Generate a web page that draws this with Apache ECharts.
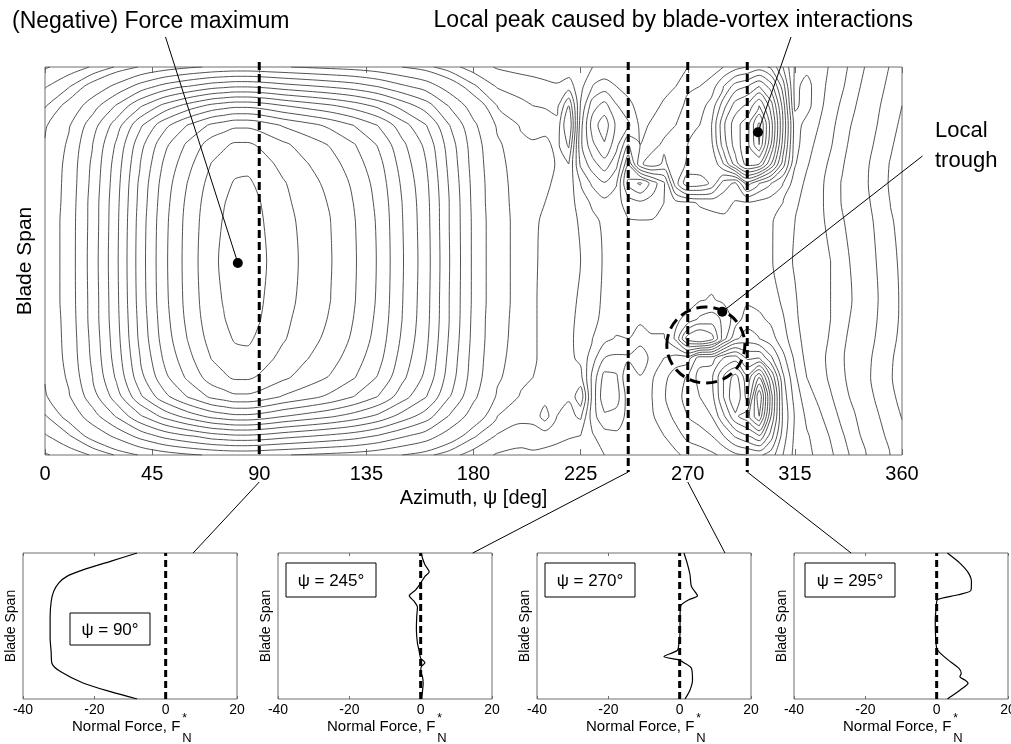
<!DOCTYPE html>
<html>
<head>
<meta charset="utf-8">
<title>Normal force over the rotor disk</title>
<script src="https://cdn.jsdelivr.net/npm/echarts@6/dist/echarts.min.js"></script>
<style>
  html, body { margin: 0; padding: 0; background: #fff; }
  #chart { width: 1011px; height: 744px; }
</style>
</head>
<body>
<div id="chart"></div>
<script>
// ---------------------------------------------------------------------------
// Sampled normal-force field F*_N over azimuth (deg) and blade span (0..1)
// ---------------------------------------------------------------------------
const azimuthStations = [0, 10, 20, 30, 40, 50, 60, 70, 75, 80, 85, 90, 95, 100, 110, 120, 130, 140, 150, 160, 170, 180, 190, 200,
  205, 210, 215, 220, 225, 230, 235, 240, 245, 250, 255, 260, 265, 270, 275, 280, 285, 290, 295, 300,
  305, 310, 315, 320, 325, 330, 335, 340, 345, 350, 355, 360];

const spanStations = [0, 0.05, 0.1, 0.15, 0.2, 0.25, 0.3, 0.35, 0.4, 0.5, 0.6, 0.65, 0.7, 0.75, 0.8, 0.85, 0.9, 0.95, 1];

// one column per azimuth station, values listed from span 0 up to span 1
const forceField = [
  [-0.9,-1.9,-2.9,-3.8,-4.1,-4.3,-4.4,-4.4,-4.5,-4.5,-4.5,-4.4,-4.4,-4.3,-4.1,-3.8,-2.9,-1.9,-0.9],
  [-1.4,-2.9,-4.5,-5.8,-6.3,-6.6,-6.7,-6.8,-6.9,-6.9,-6.9,-6.8,-6.7,-6.6,-6.3,-5.8,-4.5,-2.9,-1.4],
  [-2.1,-4.6,-7.1,-9.1,-10.0,-10.4,-10.6,-10.8,-10.8,-10.9,-10.8,-10.8,-10.6,-10.4,-10.0,-9.1,-7.1,-4.6,-2.1],
  [-3.1,-6.5,-10.2,-13.0,-14.3,-14.9,-15.2,-15.4,-15.5,-15.6,-15.5,-15.4,-15.2,-14.9,-14.3,-13.0,-10.2,-6.5,-3.1],
  [-4.1,-8.8,-13.7,-17.6,-19.3,-20.0,-20.5,-20.7,-20.9,-21.0,-20.9,-20.7,-20.5,-20.0,-19.3,-17.6,-13.7,-8.8,-4.1],
  [-5.0,-10.7,-16.6,-21.3,-23.4,-24.3,-24.9,-25.2,-25.4,-25.5,-25.4,-25.2,-24.9,-24.3,-23.4,-21.3,-16.6,-10.7,-5.0],
  [-5.7,-12.0,-18.8,-24.1,-26.4,-27.4,-28.1,-28.5,-28.7,-28.8,-28.7,-28.5,-28.1,-27.4,-26.4,-24.1,-18.8,-12.0,-5.7],
  [-6.2,-13.2,-20.6,-26.4,-29.0,-30.1,-30.8,-31.2,-31.4,-31.6,-31.4,-31.2,-30.8,-30.1,-29.0,-26.4,-20.6,-13.2,-6.2],
  [-6.4,-13.5,-21.1,-27.0,-29.7,-30.7,-31.5,-31.9,-32.1,-32.3,-32.1,-31.9,-31.5,-30.7,-29.7,-27.0,-21.1,-13.5,-6.4],
  [-6.5,-13.8,-21.5,-27.6,-30.3,-31.4,-32.2,-32.6,-32.8,-33.0,-32.8,-32.6,-32.2,-31.4,-30.3,-27.6,-21.5,-13.8,-6.5],
  [-6.5,-13.8,-21.5,-27.6,-30.3,-31.5,-32.3,-32.7,-32.9,-33.0,-32.9,-32.7,-32.3,-31.5,-30.3,-27.6,-21.5,-13.8,-6.5],
  [-6.4,-13.6,-21.2,-27.2,-29.8,-30.9,-31.7,-32.1,-32.3,-32.5,-32.3,-32.1,-31.7,-30.9,-29.8,-27.2,-21.2,-13.6,-6.4],
  [-6.2,-13.3,-20.7,-26.5,-29.1,-30.2,-30.9,-31.3,-31.5,-31.7,-31.5,-31.3,-30.9,-30.2,-29.1,-26.5,-20.7,-13.3,-6.2],
  [-6.1,-12.9,-20.1,-25.8,-28.4,-29.4,-30.2,-30.5,-30.7,-30.9,-30.7,-30.5,-30.2,-29.4,-28.4,-25.8,-20.1,-12.9,-6.1],
  [-5.8,-12.3,-19.2,-24.7,-27.1,-28.1,-28.8,-29.1,-29.4,-29.5,-29.4,-29.1,-28.8,-28.1,-27.1,-24.7,-19.2,-12.3,-5.8],
  [-5.5,-11.7,-18.3,-23.5,-25.8,-26.8,-27.4,-27.8,-28.0,-28.1,-28.0,-27.8,-27.4,-26.8,-25.8,-23.5,-18.3,-11.7,-5.5],
  [-5.2,-11.0,-17.1,-21.9,-24.1,-24.9,-25.6,-25.9,-26.1,-26.2,-26.1,-25.9,-25.6,-24.9,-24.1,-21.9,-17.1,-11.0,-5.2],
  [-4.7,-9.9,-15.5,-19.9,-21.8,-22.7,-23.2,-23.5,-23.7,-23.8,-23.7,-23.5,-23.2,-22.7,-21.8,-19.9,-15.5,-9.9,-4.7],
  [-4.0,-8.4,-13.2,-16.9,-18.5,-19.2,-19.7,-20.0,-20.1,-20.2,-20.1,-20.0,-19.7,-19.2,-18.5,-16.9,-13.2,-8.4,-4.0],
  [-3.3,-7.1,-11.0,-14.1,-15.5,-16.1,-16.5,-16.7,-16.8,-16.9,-16.8,-16.7,-16.5,-16.1,-15.5,-14.1,-11.0,-7.1,-3.3],
  [-2.4,-5.0,-7.8,-10.0,-11.0,-11.4,-11.7,-11.9,-11.9,-12.0,-11.9,-11.9,-11.7,-11.4,-11.0,-10.0,-7.8,-5.0,-2.4],
  [-1.5,-3.2,-5.0,-6.4,-7.0,-7.2,-7.4,-7.5,-7.6,-7.6,-7.6,-7.5,-7.4,-7.2,-7.0,-6.4,-5.0,-3.2,-1.5],
  [-0.9,-1.9,-3.0,-3.8,-4.2,-4.4,-4.5,-4.5,-4.6,-4.6,-4.6,-4.5,-4.5,-4.4,-4.2,-3.8,-3.0,-1.9,-0.9],
  [-0.7,-1.5,-2.3,-2.9,-3.2,-3.3,-3.4,-3.5,-3.5,-3.5,-3.5,-3.5,-3.4,-3.3,-3.2,-2.9,-2.3,-1.5,-0.7],
  [-0.8,-1.6,-2.3,-2.8,-3.0,-3.1,-3.1,-3.1,-3.1,-3.1,-3.1,-3.1,-3.2,-3.3,-3.1,-2.7,-2.0,-1.3,-0.7],
  [-0.7,-1.5,-3.5,-2.6,-2.8,-2.8,-2.8,-2.8,-2.8,-2.85,-2.9,-3.0,-3.2,-3.5,-3.3,-2.6,-1.9,-1.2,-0.6],
  [-0.6,-1.3,-2.0,-2.4,-2.5,-2.5,-2.5,-2.5,-2.5,-2.6,-2.6,-2.7,-2.8,-2.9,-2.7,-2.3,-1.7,-1.1,-0.5],
  [-0.5,-1.1,-1.7,-2.1,-2.2,-2.2,-2.2,-2.2,-2.2,-2.3,-2.3,-2.4,-2.6,-3.0,-4.2,-5.2,-4.0,-1.5,-0.4],
  [-0.4,-1.0,-2.2,-3.8,-2.3,-1.8,-1.7,-1.8,-1.9,-2.0,-1.9,-1.6,-1.0,0.2,0.8,0.6,0.1,-0.3,-0.2],
  [-0.2,-0.1,0.6,0.4,0.3,-0.4,-1.0,-1.3,-1.4,-1.4,-1.3,-0.8,0.2,1.6,2.8,3.5,2.6,1.0,0.0],
  [0.0,0.6,1.8,2.8,2.4,1.0,-0.3,-0.7,-0.8,-0.9,-0.8,-0.3,0.9,2.6,3.9,4.6,3.4,1.5,0.2],
  [0.2,0.8,1.6,2.5,2.2,1.2,0.1,-0.5,-0.7,-0.7,-0.7,-0.6,0.1,1.3,2.4,2.8,2.1,1.0,0.2],
  [0.5,0.6,0.7,0.5,0.0,1.2,0.0,-0.3,-0.6,-0.8,-0.9,-1.5,-3.3,-1.9,0.0,2.2,1.3,0.6,0.2],
  [0.4,0.5,0.7,0.6,0.9,1.8,0.5,-0.2,-0.5,-0.7,-0.9,-1.8,-4.2,1.8,1.0,0.8,0.6,0.4,0.3],
  [0.4,0.6,0.9,1.0,0.9,0.6,0.1,-0.3,-0.5,-0.6,-0.9,-1.6,-2.6,2.6,1.6,1.1,0.8,0.6,0.4],
  [0.5,1.0,1.5,1.9,1.7,1.0,0.1,-0.3,-0.5,-0.5,-0.7,-1.0,-1.2,1.8,2.2,1.6,1.1,0.8,0.5],
  [0.8,1.6,2.3,2.7,2.6,1.4,-1.2,-0.8,-0.5,-0.4,-0.4,-0.3,2.6,2.6,2.6,2.0,1.5,1.0,0.8],
  [1.3,2.3,3.0,3.3,3.1,1.5,-4.6,-1.3,-0.5,-0.4,-0.3,-0.2,4.8,3.1,3.0,2.8,2.3,1.8,1.0],
  [1.5,2.6,3.4,4.0,4.4,3.6,-5.5,-2.2,-0.9,-0.4,-0.4,0.1,4.6,3.2,3.0,3.0,2.6,2.0,1.2],
  [1.8,3.0,4.0,4.6,4.8,3.5,-4.5,-2.5,-1.1,-0.4,-0.4,0.3,3.8,3.0,3.8,4.0,3.4,2.5,1.5],
  [2.2,4.0,5.8,7.0,7.0,5.0,-1.5,-1.8,-0.8,-0.4,-0.3,0.4,1.5,5.0,6.5,6.8,5.6,4.0,2.0],
  [2.8,5.2,7.8,9.0,8.5,5.5,0.8,-0.5,-0.4,-0.4,-0.3,-0.1,0.8,7.5,8.5,8.6,7.5,5.5,2.6],
  [3.0,6.0,8.6,6.6,6.3,3.8,1.5,0.5,-0.2,-0.3,-0.3,-0.1,3.5,9.5,9.7,9.6,8.2,6.0,3.0],
  [3.2,7.0,11.0,12.0,9.0,4.0,1.0,0.2,-0.3,-0.6,-0.6,-0.3,2.0,9.0,12.0,12.3,10.0,7.0,3.5],
  [2.5,4.5,6.0,6.5,5.0,2.2,0.4,-0.2,-0.5,-0.9,-0.9,-0.5,1.0,6.0,8.0,8.5,7.5,5.5,2.8],
  [1.0,1.5,1.8,1.6,1.2,0.3,-0.6,-0.9,-1.2,-1.6,-1.5,-1.0,0.0,2.5,3.6,4.0,3.6,2.5,1.0],
  [-0.3,-0.2,-0.1,-0.4,-0.8,-1.2,-1.6,-1.8,-1.9,-2.1,-2.0,-1.8,-1.5,-0.9,-0.6,-0.5,-1.2,-1.3,-1.1],
  [-0.8,-0.9,-1.2,-1.6,-2.0,-2.3,-2.4,-2.5,-2.5,-2.6,-2.5,-2.4,-2.2,-1.9,-1.6,-1.4,-0.6,-0.6,-1.3],
  [-1.2,-1.4,-1.8,-2.2,-2.5,-2.6,-2.6,-2.7,-2.7,-2.7,-2.8,-2.8,-2.7,-2.5,-2.3,-2.0,-1.7,-1.6,-1.6],
  [-1.8,-2.1,-2.5,-2.9,-3.2,-3.3,-3.1,-3.0,-3.0,-3.0,-3.2,-3.3,-3.4,-3.2,-2.9,-2.7,-2.5,-2.3,-2.1],
  [-2.6,-2.9,-3.3,-3.6,-3.8,-3.9,-3.8,-3.7,-3.6,-3.7,-3.9,-4.1,-4.1,-3.9,-3.7,-3.5,-3.2,-2.9,-2.7],
  [-3.3,-3.6,-3.9,-4.3,-4.6,-4.6,-4.4,-4.2,-4.1,-4.2,-4.5,-4.8,-4.9,-4.7,-4.4,-4.2,-3.9,-3.6,-3.4],
  [-4.0,-4.4,-4.8,-5.3,-5.6,-5.5,-5.2,-5.0,-4.9,-5.0,-5.3,-5.6,-5.8,-5.7,-5.3,-5.0,-4.7,-4.4,-4.1],
  [-5.0,-5.4,-5.9,-6.4,-6.7,-6.6,-6.3,-6.1,-6.0,-6.2,-6.5,-6.8,-7.0,-6.9,-6.5,-6.1,-5.8,-5.4,-5.1],
  [-6.0,-6.5,-7.0,-7.5,-7.8,-7.7,-7.4,-7.3,-7.2,-7.4,-7.7,-8.0,-8.2,-8.1,-7.7,-7.3,-6.9,-6.5,-6.1],
  [-7.0,-7.5,-8.1,-8.6,-8.9,-8.8,-8.5,-8.3,-8.3,-8.4,-8.7,-9.0,-9.2,-9.1,-8.8,-8.4,-8.0,-7.6,-7.1]
];

// iso-force levels drawn on the disk map
const contourLevels = [-32, -30, -28, -26, -24, -22, -20, -18, -16, -14, -12, -10, -8, -6, -4,
  -3, -2, -1, 0, 1, 2, 3, 4, 5, 6, 7, 8, 9, 10, 11, 12];

// azimuth tick labels
const azimuthTicks = [0, 45, 90, 135, 180, 225, 270, 315, 360];
// normal-force tick labels of the spanwise cuts
const forceTicks = [-40, -20, 0, 20];

// ---------------------------------------------------------------------------
// Spanwise cuts: pairs of [F*_N, span]
// ---------------------------------------------------------------------------
const cutAzimuths = [90, 245, 270, 295];
const profile90 = [[-8.0,1],[-15.5,0.943],[-23.0,0.886],[-27.7,0.84],[-30.0,0.794],[-31.4,0.737],[-32.1,0.668],
  [-32.4,0.56],[-32.4,0.42],[-32.1,0.32],[-31.9,0.245],[-29.5,0.188],[-23.0,0.108],[-15.5,0.05],[-8.0,0]];
const profile245 = [[0.2,1],[0.5,0.966],[1.2,0.92],[2.4,0.87],[1.2,0.84],[0.0,0.794],[-1.4,0.748],[-3.2,0.707],
  [-1.8,0.668],[-0.9,0.629],[-1.1,0.565],[-1.2,0.474],[-0.9,0.382],[-0.4,0.325],[0.0,0.279],[1.2,0.249],
  [0.2,0.222],[0.0,0.188],[0.5,0.153],[0.7,0.108],[0.5,0.05],[0.3,0]];
const profile270 = [[1.2,1],[2.1,0.931],[2.9,0.851],[3.3,0.771],[5.0,0.707],[2.6,0.68],[0.3,0.638],[0.1,0.542],
  [0.1,0.451],[-0.2,0.382],[-0.7,0.332],[-4.4,0.291],[-0.2,0.268],[1.2,0.249],[3.3,0.211],[3.6,0.13],
  [2.9,0.062],[1.5,0]];
const profile295 = [[3.0,1],[6.5,0.931],[8.8,0.867],[9.75,0.805],[9.6,0.744],[6.0,0.714],[0.2,0.68],[-0.1,0.634],
  [-0.4,0.542],[-0.3,0.428],[0.0,0.348],[0.6,0.325],[3.2,0.268],[6.2,0.211],[6.9,0.176],[6.5,0.153],
  [7.9,0.13],[8.8,0.108],[7.9,0.085],[5.3,0.039],[3.0,0]];
const cutProfiles = [profile90, profile245, profile270, profile295];
const zeroForceLine = [[0, 0], [0, 1]];
// force value on each cut's top edge where the connector from the disk map arrives
const connectorForce = [7.7, 14.6, 12.7, -24];

// annotated points on the disk map: [azimuth, span]
const forceMaximum = [81, 0.495];
const bviPeak = [299.5, 0.832];
const localTrough = [284.5, 0.369];
// dashed ring round the trough: centre and half-extent in azimuth / span
const troughRing = { center: [277.6, 0.2835], halfAzimuth: 16.4, halfSpan: 0.098 };

// ---------------------------------------------------------------------------
// Marching squares on the rectilinear azimuth x span grid, chained to polylines
// ---------------------------------------------------------------------------
function traceLevel(xs, ys, field, level) {
  const nx = xs.length, ny = ys.length;
  const val = (i, j) => { const v = field[i][j]; return v === level ? v + 1e-6 : v; };
  const pts = new Map();
  const adj = new Map();
  const edgePoint = (key, i1, j1, i2, j2) => {
    if (!pts.has(key)) {
      const v1 = val(i1, j1), v2 = val(i2, j2);
      const t = (level - v1) / (v2 - v1);
      pts.set(key, [xs[i1] + t * (xs[i2] - xs[i1]), ys[j1] + t * (ys[j2] - ys[j1])]);
    }
    return key;
  };
  const link = (a, b) => {
    if (!adj.has(a)) adj.set(a, []);
    if (!adj.has(b)) adj.set(b, []);
    adj.get(a).push(b);
    adj.get(b).push(a);
  };
  for (let i = 0; i < nx - 1; i++) {
    for (let j = 0; j < ny - 1; j++) {
      const a = val(i, j), b = val(i + 1, j), c = val(i + 1, j + 1), d = val(i, j + 1);
      const A = a > level, B = b > level, C = c > level, D = d > level;
      const k = [null, null, null, null];
      if (A !== B) k[0] = edgePoint('h' + i + '_' + j, i, j, i + 1, j);
      if (B !== C) k[1] = edgePoint('v' + (i + 1) + '_' + j, i + 1, j, i + 1, j + 1);
      if (D !== C) k[2] = edgePoint('h' + i + '_' + (j + 1), i, j + 1, i + 1, j + 1);
      if (A !== D) k[3] = edgePoint('v' + i + '_' + j, i, j, i, j + 1);
      const present = k.filter(e => e !== null);
      if (present.length === 2) {
        link(present[0], present[1]);
      } else if (present.length === 4) {
        const centerAbove = (a + b + c + d) / 4 > level;
        if (centerAbove === A) { link(k[0], k[1]); link(k[2], k[3]); }
        else { link(k[3], k[0]); link(k[1], k[2]); }
      }
    }
  }
  const used = new Set();
  const pairKey = (p, q) => (p < q ? p + '|' + q : q + '|' + p);
  const walk = start => {
    const path = [start];
    let cur = start;
    for (;;) {
      const nxt = (adj.get(cur) || []).find(n => !used.has(pairKey(cur, n)));
      if (nxt === undefined) break;
      used.add(pairKey(cur, nxt));
      path.push(nxt);
      cur = nxt;
    }
    return path.map(key => pts.get(key));
  };
  const lines = [];
  for (const [key, nb] of adj) {
    if (nb.length === 1 && !used.has(pairKey(key, nb[0]))) lines.push(walk(key));
  }
  for (const [key, nb] of adj) {
    for (const n of nb) if (!used.has(pairKey(key, n))) lines.push(walk(key));
  }
  return lines.filter(l => l.length > 1);
}

// ---------------------------------------------------------------------------
// Chart
// ---------------------------------------------------------------------------
const FONT = '"Liberation Sans", Arial, Helvetica, sans-serif';
const chart = echarts.init(document.getElementById('chart'), null, { renderer: 'canvas' });

const cutLefts = [23, 278, 537, 794];
const grids = [{ left: 45, top: 67, width: 857, height: 388 }]
  .concat(cutLefts.map(l => ({ left: l, top: 553, width: 214, height: 146 })))
  .map(g => Object.assign(g, { show: true, borderColor: '#6e6e6e', borderWidth: 1, backgroundColor: 'transparent', containLabel: false, outerBoundsMode: 'none' }));

const azStep = azimuthTicks[1] - azimuthTicks[0];
const fStep = forceTicks[1] - forceTicks[0];

const xAxes = [
  {
    gridIndex: 0, type: 'value', position: 'bottom', min: azimuthTicks[0], max: azimuthTicks[azimuthTicks.length - 1], interval: azStep,
    axisLine: { show: false }, splitLine: { show: false },
    axisTick: { inside: true, length: 6, lineStyle: { color: '#6e6e6e' } },
    axisLabel: { fontSize: 20, color: '#000', margin: 9, fontFamily: FONT, showMinLabel: true, showMaxLabel: true },
    name: 'Azimuth, \u03c8 [deg]', nameLocation: 'middle', nameGap: 27,
    nameTextStyle: { fontSize: 20, color: '#000', fontFamily: FONT }
  },
  {
    gridIndex: 0, type: 'value', position: 'top', min: azimuthTicks[0], max: azimuthTicks[azimuthTicks.length - 1], interval: azStep,
    axisLine: { show: false }, splitLine: { show: false },
    axisTick: { inside: true, length: 6, lineStyle: { color: '#6e6e6e' } },
    axisLabel: { show: false }
  }
];
const yAxes = [
  {
    gridIndex: 0, type: 'value', min: 0, max: 1,
    axisLine: { show: false }, splitLine: { show: false }, axisTick: { show: false }, axisLabel: { show: false },
    name: 'Blade Span', nameLocation: 'middle', nameGap: 9,
    nameTextStyle: { fontSize: 21, color: '#000', fontFamily: FONT }
  }
];
cutLefts.forEach((_, k) => {
  xAxes.push({
    gridIndex: k + 1, type: 'value', position: 'bottom', min: forceTicks[0], max: forceTicks[forceTicks.length - 1], interval: fStep,
    axisLine: { show: false }, splitLine: { show: false },
    axisTick: { inside: true, length: 3, lineStyle: { color: '#6e6e6e' } },
    axisLabel: { fontSize: 14, color: '#000', margin: 4, fontFamily: FONT, showMinLabel: true, showMaxLabel: true }
  });
});
cutLefts.forEach((_, k) => {
  xAxes.push({
    gridIndex: k + 1, type: 'value', position: 'top', min: forceTicks[0], max: forceTicks[forceTicks.length - 1], interval: fStep,
    axisLine: { show: false }, splitLine: { show: false },
    axisTick: { inside: true, length: 3, lineStyle: { color: '#6e6e6e' } },
    axisLabel: { show: false }
  });
  yAxes.push({
    gridIndex: k + 1, type: 'value', min: 0, max: 1,
    axisLine: { show: false }, splitLine: { show: false }, axisTick: { show: false }, axisLabel: { show: false },
    name: 'Blade Span', nameLocation: 'middle', nameGap: 5,
    nameTextStyle: { fontSize: 14, color: '#000', fontFamily: FONT }
  });
});

const series = [];
// iso-force lines of the disk map
contourLevels.forEach(level => {
  traceLevel(azimuthStations, spanStations, forceField, level).forEach(line => {
    series.push({
      type: 'line', xAxisIndex: 0, yAxisIndex: 0, data: line,
      symbol: 'none', smooth: 0.3, silent: true, clip: true,
      lineStyle: { color: '#404040', width: 0.9 }, z: 2
    });
  });
});
// annotated points
series.push({
  type: 'scatter', xAxisIndex: 0, yAxisIndex: 0, silent: true, z: 6,
  data: [forceMaximum, bviPeak, localTrough], symbolSize: 10,
  itemStyle: { color: '#000', opacity: 1 }
});
// spanwise cuts
cutProfiles.forEach((prof, k) => {
  series.push({
    type: 'line', xAxisIndex: k + 2, yAxisIndex: k + 1, data: zeroForceLine, symbol: 'none', silent: true,
    lineStyle: { color: '#000', width: 3, type: [7, 4] }, z: 3
  });
  series.push({
    type: 'line', xAxisIndex: k + 2, yAxisIndex: k + 1, data: prof, symbol: 'none', smooth: 0.25, silent: true,
    lineStyle: { color: '#000', width: 1.2 }, z: 4
  });
});

chart.setOption({
  animation: false,
  backgroundColor: '#fff',
  textStyle: { fontFamily: FONT },
  grid: grids,
  xAxis: xAxes,
  yAxis: yAxes,
  series: series
});

// ---------------------------------------------------------------------------
// Cut markers, connectors and annotations, placed through the axis scales
// ---------------------------------------------------------------------------
const toPx = (gridIndex, pt) => chart.convertToPixel({ gridIndex: gridIndex }, pt);
const axisY = toPx(0, [0, 0])[1];
const graphics = [];
const measure = (text, size) => {
  const ctx = document.createElement('canvas').getContext('2d');
  ctx.font = size + 'px ' + FONT;
  return ctx.measureText(text).width;
};
const txt = (text, x, y, size, align) => ({
  type: 'text', z: 100, silent: true,
  style: {
    text: text, x: x, y: y, fill: '#000', font: size + 'px ' + FONT,
    align: align || 'left', verticalAlign: 'middle', textAlign: align || 'left', textVerticalAlign: 'middle'
  }
});
const seg = (x1, y1, x2, y2, width, dash) => ({
  type: 'line', z: 90, silent: true,
  shape: { x1: x1, y1: y1, x2: x2, y2: y2 },
  style: { stroke: '#000', lineWidth: width, lineDash: dash || null }
});

const forceTitle = 'Normal Force, F';
const forceTitleSize = 15;
const forceTitleWidth = measure(forceTitle, forceTitleSize);

cutAzimuths.forEach((az, k) => {
  const top = toPx(0, [az, 1]);
  const onLabel = azimuthTicks.indexOf(az) >= 0;
  const dashEnd = onLabel ? axisY : axisY + 17;
  graphics.push(seg(top[0], top[1] - 5, top[0], dashEnd, 3, [8, 4]));
  const from = [top[0], onLabel ? axisY + 27 : axisY + 17];
  const to = toPx(k + 1, [connectorForce[k], 1]);
  graphics.push(seg(from[0], from[1], to[0], to[1], 1));

  // azimuth tag inside each cut
  const gl = cutLefts[k], gt = 553;
  const box = k === 0 ? { x: gl + 47, y: gt + 60, w: 80, h: 32 } : { x: gl + 8 + (k === 3 ? 3 : 0), y: gt + 10, w: 90, h: 34 };
  graphics.push({
    type: 'rect', z: 95, silent: true,
    shape: { x: box.x, y: box.y, width: box.w, height: box.h },
    style: { fill: '#fff', stroke: '#000', lineWidth: 1 }
  });
  graphics.push(txt('\u03c8 = ' + az + '\u00b0', box.x + box.w / 2, box.y + box.h / 2 + 1, 17, 'center'));

  // axis title with starred, subscripted force symbol
  const start = gl + 49;
  const end = start + forceTitleWidth;
  graphics.push(txt(forceTitle, start, 727, forceTitleSize, 'left'));
  graphics.push(txt('*', end + 2, 719, 12, 'left'));
  graphics.push(txt('N', end + 2, 738, 13, 'left'));
});

// dashed ring round the local trough
const ringC = toPx(0, troughRing.center);
const ringE = toPx(0, [troughRing.center[0] + troughRing.halfAzimuth, troughRing.center[1] + troughRing.halfSpan]);
graphics.push({
  type: 'ellipse', z: 92, silent: true,
  shape: { cx: ringC[0], cy: ringC[1], rx: Math.abs(ringE[0] - ringC[0]), ry: Math.abs(ringE[1] - ringC[1]) },
  style: { fill: null, stroke: '#000', lineWidth: 3, lineDash: [11, 6] }
});

// annotation texts and leaders
const pMax = toPx(0, forceMaximum), pPeak = toPx(0, bviPeak), pTrough = toPx(0, localTrough);
graphics.push(txt('(Negative) Force maximum', 12, 22, 23, 'left'));
graphics.push(seg(165.5, 37, pMax[0], pMax[1], 1));
graphics.push(txt('Local peak caused by blade-vortex interactions', 913, 21, 23, 'right'));
graphics.push(seg(791, 37, pPeak[0], pPeak[1], 1));
graphics.push(txt('Local', 935, 131, 22, 'left'));
graphics.push(txt('trough', 935, 161, 22, 'left'));
graphics.push(seg(922.5, 156, pTrough[0], pTrough[1], 1));

chart.setOption({ graphic: { elements: graphics } });
</script>
</body>
</html>
